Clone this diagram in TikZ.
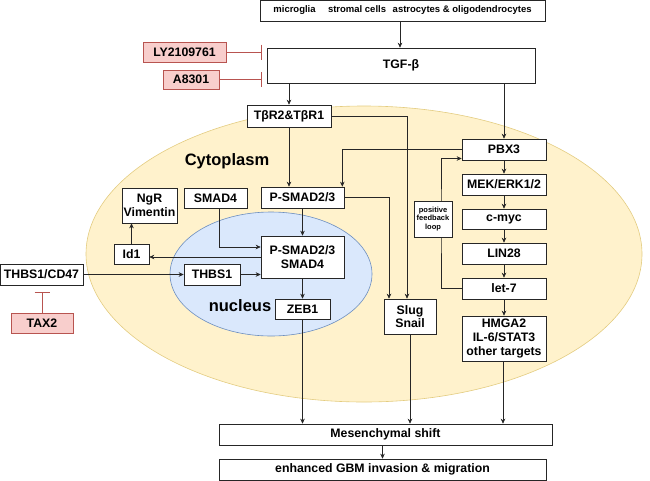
\documentclass[tikz,border=0pt]{standalone}
\usepackage{fontspec}
\setmainfont{Liberation Sans}
\usetikzlibrary{arrows.meta,calc}
\definecolor{cytofill}{HTML}{FFF2CC}
\definecolor{cytoline}{HTML}{E3CC80}
\definecolor{nucfill}{HTML}{DAE8FC}
\definecolor{nucline}{HTML}{6C8EBF}
\definecolor{drugfill}{HTML}{F8CECC}
\definecolor{drugline}{HTML}{B85450}
\tikzset{
  box/.style={draw=black!85, fill=white, line width=0.6pt, inner sep=1pt, align=center,
    font=\bfseries\fontsize{12.3}{13.8}\selectfont},
  drug/.style={box, draw=drugline, fill=drugfill},
  act/.style={draw=black!85, line width=0.6pt, -{Stealth[length=5pt,width=4.5pt]}},
  inhib/.style={draw=drugline, line width=0.7pt, -{Bar[width=15pt,line width=0.8pt]}},
  biglabel/.style={font=\bfseries\fontsize{16.5}{18}\selectfont}
}
\begin{document}
\begin{tikzpicture}[x=1pt,y=-1pt]
    \useasboundingbox (0,0) rectangle (650,480);
    \draw [cytoline, fill=cytofill, line width=0.6pt] (364,254) ellipse [x radius=278, y radius=148];
    \draw [nucline, fill=nucfill, line width=0.6pt] (271,274) ellipse [x radius=101, y radius=62];
    \node [biglabel] (cyto) at (227,161) {Cytoplasm};
    \node [biglabel] (nuc) at (240,306) {nucleus};
    \node [box, minimum width=285pt, minimum height=21pt, font=\bfseries\fontsize{9.5}{11}\selectfont]
        (cells) at (402.5,10.5) {microglia\hspace{1.3em}stromal cells\hspace{0.7em}astrocytes \& oligodendrocytes};
    \node [box, minimum width=268pt, minimum height=35pt] (tgf) at (401,65.5) {TGF-β};
    \node [drug, minimum width=83pt, minimum height=20pt] (ly) at (184.5,52) {LY2109761};
    \node [drug, minimum width=56pt, minimum height=19pt] (a8301) at (191,79.5) {A8301};
    \node [box, minimum width=84pt, minimum height=22pt] (tbr) at (289,116) {TβR2\&TβR1};
    \node [box, minimum width=84pt, minimum height=21pt] (pbx) at (504,149.5) {PBX3};
    \node [box, minimum width=84pt, minimum height=21pt] (mek) at (504,184.5) {MEK/ERK1/2};
    \node [box, minimum width=84pt, minimum height=20pt] (myc) at (504,219) {c-myc};
    \node [box, minimum width=84pt, minimum height=21pt] (lin) at (504,253.5) {LIN28};
    \node [box, minimum width=84pt, minimum height=21pt] (let) at (504,288.5) {let-7};
    \node [box, minimum width=84pt, minimum height=45pt] (hmga) at (504,338.5) {HMGA2\\IL-6/STAT3\\other targets};
    \node [box, minimum width=83pt, minimum height=21pt] (psmad) at (302.5,197.5) {P-SMAD2/3};
    \node [box, minimum width=63pt, minimum height=20pt] (smad) at (215.5,198) {SMAD4};
    \node [box, minimum width=55pt, minimum height=35pt] (ngr) at (149.5,205.5) {NgR\\Vimentin};
    \node [box, minimum width=35pt, minimum height=20pt] (id) at (131.5,254) {Id1};
    \node [box, minimum width=83pt, minimum height=42pt] (cplx) at (302.5,257) {P-SMAD2/3\\SMAD4};
    \node [box, minimum width=83pt, minimum height=21pt] (cd47) at (41.5,274.5) {THBS1/CD47};
    \node [box, minimum width=56pt, minimum height=21pt] (thbs) at (212,274.5) {THBS1};
    \node [drug, minimum width=62pt, minimum height=20pt] (tax) at (42,323) {TAX2};
    \node [box, minimum width=55pt, minimum height=20pt] (zeb) at (302.5,309) {ZEB1};
    \node [box, minimum width=52pt, minimum height=35pt] (slug) at (410,316.5) {Slug\\Snail};
    \node [box, minimum width=333pt, minimum height=21pt] (mes) at (385.5,434.5) {Mesenchymal shift};
    \node [box, minimum width=327pt, minimum height=21pt] (enh) at (382.5,469.5) {enhanced GBM invasion \& migration};
    \coordinate (loop) at (441,219);
    \draw [act] (cells.south -| 400,0) -- (tgf.north -| 400,0);
    \draw [inhib, shorten >=5pt] (ly) -- (ly -| tgf.west);
    \draw [inhib, shorten >=5pt] (a8301) -- (a8301 -| tgf.west);
    \draw [act] (tgf.south -| tbr) -- (tbr);
    \draw [act] (tgf.south -| pbx) -- (pbx);
    \draw [act] (tbr) -- (tbr |- psmad.north);
    \draw [act] (tbr.east) -| ([xshift=-3pt]slug.north);
    \draw [act] (psmad.east) -| ([xshift=-21pt]slug.north);
    \draw [act] (pbx.west) -| ([xshift=-2pt]psmad.north east);
    \draw [act] (pbx) -- (mek);
    \draw [act] (mek) -- (myc);
    \draw [act] (myc) -- (lin);
    \draw [act] (lin) -- (let);
    \draw [act] (let) -- (hmga);
    \draw [act] (let.west) -| (loop) |- ([yshift=-9pt]pbx.west);
    \draw [act] (psmad) -- (cplx);
    \draw [act] ([xshift=3.5pt]smad.south) |- ([yshift=10pt]cplx.west);
    \draw [act] (cplx.west) -- (cplx.west -| id.east);
    \draw [act] (id) -- (ngr.south -| id);
    \draw [act] (cd47) -- (thbs);
    \draw [act] (thbs) -- (thbs -| cplx.west);
    \draw [inhib, shorten >=7pt] (tax) -- (cd47.south -| tax);
    \draw [act] (cplx) -- (zeb);
    \draw [act] (zeb) -- (zeb |- mes.north);
    \draw [act] (slug) -- (slug |- mes.north);
    \draw [act] (hmga.south -| 503,0) -- (mes.north -| 503,0);
    \draw [act] (mes.south -| enh) -- (enh);
    \node [box, minimum width=38pt, minimum height=36pt, inner sep=0.5pt,
        font=\bfseries\fontsize{7.5}{8.5}\selectfont] (fb) at (433,219) {positive\\feedback\\loop};
\end{tikzpicture}
\end{document}
